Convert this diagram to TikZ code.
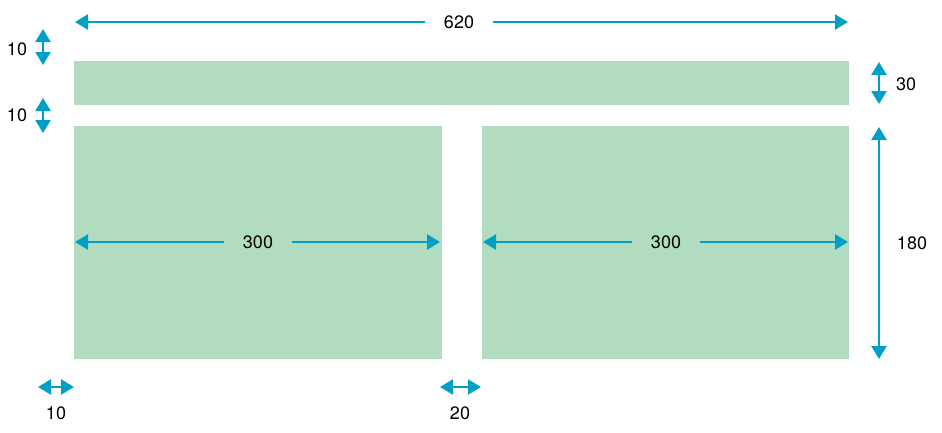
\documentclass[tikz,border=0pt]{standalone}
\usepackage{fontspec}
\setmainfont{TeX Gyre Heros}
\usetikzlibrary{arrows.meta}
\definecolor{panel}{RGB}{178,220,191}
\definecolor{dimblue}{RGB}{0,160,198}
\tikzset{
  dim/.style={draw=dimblue, line width=2.4pt},
  num/.style={font=\fontsize{18}{20}\selectfont, inner sep=0pt},
  gapnum/.style={num, inner xsep=19pt}
}
\begin{document}
\begin{tikzpicture}[x=1pt, y=-1pt, >={Triangle[length=13pt,width=15pt]}]
  \useasboundingbox (0,0) rectangle (942,432);
  % panels
  \fill[panel] (74,61) rectangle (849,105);
  \fill[panel] (74,126) rectangle (442,359);
  \fill[panel] (482,126) rectangle (849,359);
  % total width
  \coordinate (wl) at (75,22);
  \coordinate (wr) at (848,22);
  \node[gapnum] (w) at (459,22) {620};
  \draw[dim, ->] (w) -- (wl);
  \draw[dim, ->] (w) -- (wr);
  % panel widths
  \coordinate (al) at (75,242);
  \coordinate (ar) at (440,242);
  \node[gapnum] (a) at (258,242) {300};
  \draw[dim, ->] (a) -- (al);
  \draw[dim, ->] (a) -- (ar);
  \coordinate (bl) at (483,242);
  \coordinate (br) at (848,242);
  \node[gapnum] (b) at (666,242) {300};
  \draw[dim, ->] (b) -- (bl);
  \draw[dim, ->] (b) -- (br);
  % left gaps
  \coordinate (t1) at (43,29);
  \coordinate (t2) at (43,65);
  \draw[dim, <->] (t1) -- (t2);
  \node[num] (g1) at (17,49) {10};
  \coordinate (t3) at (43,98);
  \coordinate (t4) at (43,133);
  \draw[dim, <->] (t3) -- (t4);
  \node[num] (g2) at (17,115) {10};
  % heights
  \coordinate (h1) at (879,62);
  \coordinate (h2) at (879,104);
  \draw[dim, <->] (h1) -- (h2);
  \node[num] (hb) at (906,84) {30};
  \coordinate (h3) at (879,127);
  \coordinate (h4) at (879,359);
  \draw[dim, <->] (h3) -- (h4);
  \node[num] (hp) at (912,243) {180};
  % bottom gaps
  \coordinate (s1) at (38,387);
  \coordinate (s2) at (74,387);
  \draw[dim, <->] (s1) -- (s2);
  \node[num] (e1) at (56,413) {10};
  \coordinate (s3) at (440,387);
  \coordinate (s4) at (481,387);
  \draw[dim, <->] (s3) -- (s4);
  \node[num] (e2) at (460,413) {20};
\end{tikzpicture}
\end{document}
